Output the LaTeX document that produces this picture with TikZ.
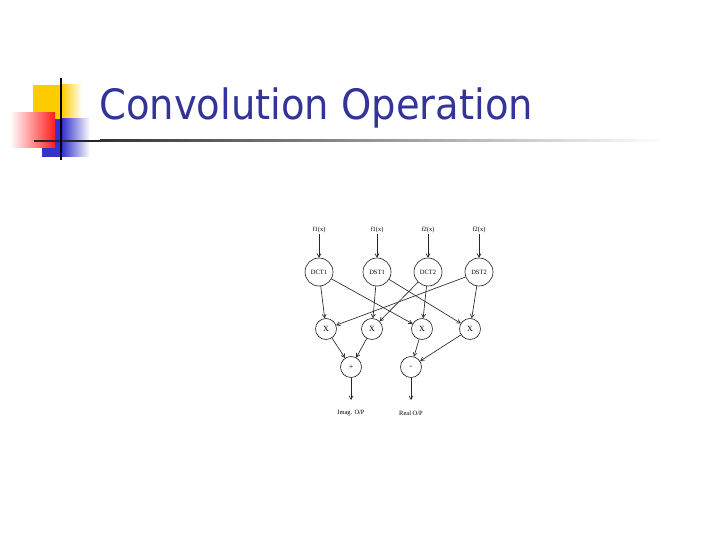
\documentclass[tikz,border=0pt]{standalone}
\usepackage{fontspec}
\setmainfont{Liberation Serif}
\newfontfamily\titlefont{DejaVu Sans}
\usetikzlibrary{arrows.meta}
\definecolor{titleblue}{RGB}{51,51,153}
\definecolor{slideyellow}{RGB}{255,204,0}
\definecolor{slideblue}{RGB}{51,51,204}
\definecolor{slidered}{RGB}{255,30,30}

\begin{document}
\begin{tikzpicture}[x=1bp, y=-1bp,
    bignode/.style={circle, draw=black!85, line width=0.65pt, minimum size=28bp, inner sep=0pt, font=\fontsize{6.5}{7}\selectfont},
    smallnode/.style={circle, draw=black!85, line width=0.65pt, minimum size=21bp, inner sep=0pt, font=\fontsize{8}{9}\selectfont},
    inlabel/.style={font=\fontsize{6.5}{7}\selectfont, inner sep=1pt},
    flow/.style={draw=black!85, line width=0.65pt, -{Straight Barb[length=3.5pt, width=4pt]}}
]
    \useasboundingbox (0,0) rectangle (720,540);

    % Slide header
    % - [Squares]
    \fill [slideyellow] (33,85) rectangle (62,119);
    \shade [left color=slideyellow, right color=white] (62,85) rectangle (82,119);
    \fill [slideblue] (42,119) rectangle (62,157);
    \shade [left color=slideblue, right color=white] (62,119) rectangle (90,157);
    \shade [top color=slidered!60, bottom color=white, left color=white, right color=slidered] (10,113) rectangle (55,148);
    % - [Rules]
    \fill [black!85] (34,140) rectangle (100,142);
    \shade [left color=black!80, right color=white] (100,140) rectangle (665,142);
    \fill [black] (60,78) rectangle (62,160);
    % - [Title]
    \node [anchor=base west, inner sep=0pt, text=titleblue, xscale=0.92, font=\titlefont\fontsize{42}{46}\selectfont] (title) at (99,120) {Convolution Operation};

    % Transform stage
    \node at (319,272) [bignode](dct1){DCT1};
    \node at (377,272) [bignode](dst1){DST1};
    \node at (428,272) [bignode](dct2){DCT2};
    \node at (479,272) [bignode](dst2){DST2};
    % -- The inputs
    \node at (319,230) [inlabel](in1){f1(x)};
    \node at (377,230) [inlabel](in2){f1(x)};
    \node at (428,230) [inlabel](in3){f2(x)};
    \node at (479,230) [inlabel](in4){f2(x)};
    \draw [flow] (in1.south) -- (dct1.north);
    \draw [flow] (in2.south) -- (dst1.north);
    \draw [flow] (in3.south) -- (dct2.north);
    \draw [flow] (in4.south) -- (dst2.north);

    % Product stage
    \node at (326,329) [smallnode](mulA){X};
    \node at (372,329) [smallnode](mulB){X};
    \node at (422,329) [smallnode](mulC){X};
    \node at (470,329) [smallnode](mulD){X};
    % -- Cross connections
    \draw [flow] (dct1) -- (mulA);
    \draw [flow] (dct1) -- (mulC);
    \draw [flow] (dst1) -- (mulB);
    \draw [flow] (dst1) -- (mulD);
    \draw [flow] (dct2) -- (mulB);
    \draw [flow] (dct2) -- (mulC);
    \draw [flow] (dst2) -- (mulA);
    \draw [flow] (dst2) -- (mulD);

    % Sum stage
    \node at (351,367) [smallnode](plus){+};
    \node at (411,367) [smallnode](minus){-};
    \draw [flow] (mulA) -- (plus);
    \draw [flow] (mulB) -- (plus);
    \draw [flow] (mulC) -- (minus);
    \draw [flow] (mulD) -- (minus);
    % - [Outputs]
    \coordinate (imagend) at (351,400);
    \coordinate (realend) at (411,400);
    \draw [flow] (plus) -- (imagend);
    \draw [flow] (minus) -- (realend);
    \node at (351,413) [inlabel](imag){Imag. O/P};
    \node at (411,413) [inlabel](real){Real O/P};
\end{tikzpicture}
\end{document}
